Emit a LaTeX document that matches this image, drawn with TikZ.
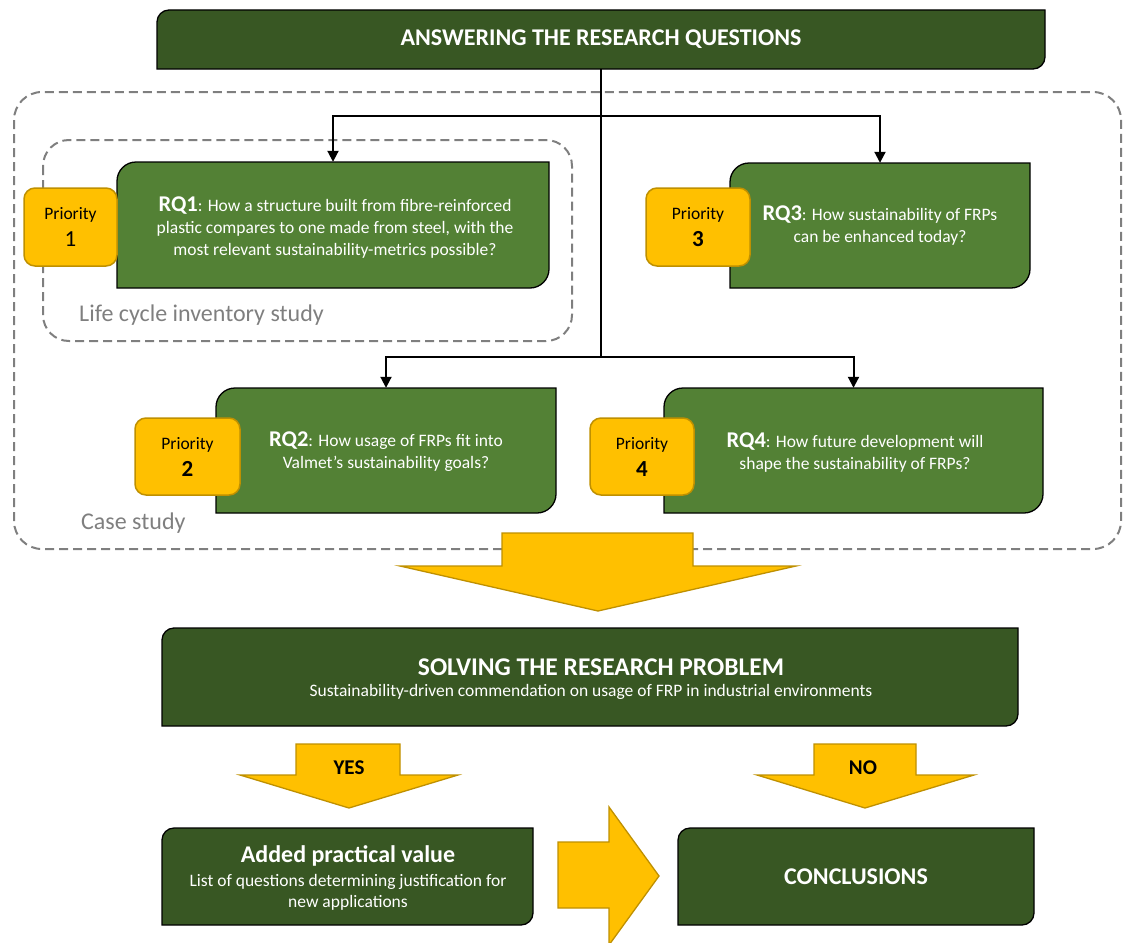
\documentclass[tikz,border=0pt]{standalone}
\usepackage{fontspec}
\setmainfont{Carlito}
\usetikzlibrary{arrows.meta}
\definecolor{darkgreen}{HTML}{385723}
\definecolor{midgreen}{HTML}{538135}
\definecolor{amber}{HTML}{FFC000}
\definecolor{amberedge}{HTML}{BF9000}
\definecolor{dashgray}{HTML}{7F7F7F}

% Box with rounded top-left and bottom-right corners: x1,y1,x2,y2,radius,fill
\newcommand\diagshape[6]{%
  \path[draw=black, line width=1.3pt, fill=#6]
    (#1,#4) -- (#1,#2+#5)
    .. controls (#1,#2+0.45*#5) and (#1+0.45*#5,#2) .. (#1+#5,#2)
    -- (#3,#2) -- (#3,#4-#5)
    .. controls (#3,#4-0.45*#5) and (#3-0.45*#5,#4) .. (#3-#5,#4)
    -- cycle;}

\tikzset{
  conn/.style={line width=2pt, black},
  arr/.style={conn, -{Triangle[length=11pt,width=11pt]}},
  prio/.style={draw=amberedge, line width=1.5pt, fill=amber, rounded corners=11pt,
    text=black, align=center, font=\fontsize{17.5}{27}\selectfont, inner sep=0pt},
  frame/.style={dashgray, line width=2pt, dash pattern=on 9pt off 5pt, rounded corners=28pt},
  framelabel/.style={dashgray, anchor=west, font=\fontsize{24}{26}\selectfont, inner sep=0pt},
  rqtext/.style={text=white, align=center, font=\fontsize{17.5}{22}\selectfont, inner sep=0pt},
  bigarrow/.style={fill=amber, draw=amberedge, line width=1.3pt},
  hdr/.style={text=white, font=\bfseries\fontsize{24}{26}\selectfont, inner sep=0pt},
  sub/.style={text=white, align=center, font=\fontsize{17.5}{21}\selectfont, inner sep=0pt},
  tag/.style={text=black, font=\bfseries\fontsize{21}{24}\selectfont, inner sep=0pt},
  area/.style={draw=none, inner sep=0pt}
}

\newcommand\rqlabel[1]{{\bfseries\fontsize{22.5}{22}\selectfont #1}:}
\newcommand\prionum[1]{{\fontsize{23}{26}\selectfont #1}}

\begin{document}
\begin{tikzpicture}[x=1pt,y=-1pt]
\useasboundingbox (0,0) rectangle (1123,942);

% dashed grouping frames
\draw[frame] (14,92) rectangle (1121,549);
\draw[frame, rounded corners=26pt] (43,140) rectangle (572,341);
\node[framelabel] (lci) at (79,315) {Life cycle inventory study};
\node[framelabel] (cs) at (81,523) {Case study};

% top header
\diagshape{157}{10}{1045}{69}{12}{darkgreen}
\node[area, minimum width=888pt, minimum height=59pt] (top) at (601,39.5) {};
\node[hdr] at (top) {ANSWERING THE RESEARCH QUESTIONS};

% research question boxes
\diagshape{117}{162}{549}{288}{19}{midgreen}
\node[area, minimum width=432pt, minimum height=126pt] (rq1) at (333,225) {};
\node[rqtext] at (335,228) {\rqlabel{RQ1} How a structure built from fibre-reinforced\\
  plastic compares to one made from steel, with the\\
  most relevant sustainability-metrics possible?};

\diagshape{730}{163}{1030}{288}{19}{midgreen}
\node[area, minimum width=300pt, minimum height=125pt] (rq3) at (880,225.5) {};
\node[rqtext] at (880,226) {\rqlabel{RQ3} How sustainability of FRPs\\can be enhanced today?};

\diagshape{216}{388}{556}{513}{19}{midgreen}
\node[area, minimum width=340pt, minimum height=125pt] (rq2) at (386,450.5) {};
\node[rqtext] at (386,452) {\rqlabel{RQ2} How usage of FRPs fit into\\Valmet’s sustainability goals?};

\diagshape{664}{388}{1043}{513}{19}{midgreen}
\node[area, minimum width=379pt, minimum height=125pt] (rq4) at (853.5,450.5) {};
\node[rqtext] at (855,453) {\rqlabel{RQ4} How future development will\\shape the sustainability of FRPs?};

% priority tags
\node[prio, minimum width=93pt, minimum height=78pt] (p1) at (70.5,227) {Priority\\\prionum{1}};
\node[prio, minimum width=104pt, minimum height=78pt] (p3) at (698,227) {Priority\\\prionum{\bfseries 3}};
\node[prio, minimum width=105pt, minimum height=77pt] (p2) at (187.5,456.5) {Priority\\\prionum{\bfseries 2}};
\node[prio, minimum width=104pt, minimum height=77pt] (p4) at (642,456.5) {Priority\\\prionum{\bfseries 4}};

% connectors from header to questions
\coordinate (j1) at (601,116);
\coordinate (j2) at (601,357);
\draw[conn] (top.south) -- (j2);
\draw[arr] (j1) -| (rq1.north);
\draw[arr] (j1) -| (rq3.north);
\draw[arr] (j2) -| (rq2.north);
\draw[arr] (j2) -| (rq4.north);

% large downward arrow
\path[bigarrow] (502,533) -- (693,533) -- (693,566) -- (796,566) -- (598,611)
  -- (400,566) -- (502,566) -- cycle;

% research problem box
\diagshape{162}{628}{1018}{726}{12}{darkgreen}
\node[area, minimum width=856pt, minimum height=98pt] (prob) at (590,677) {};
\node[hdr, font=\bfseries\fontsize{25.5}{26}\selectfont] at (601,667) {SOLVING THE RESEARCH PROBLEM};
\node[sub] at (591,692) {Sustainability-driven commendation on usage of FRP in industrial environments};

% yes / no arrows
\path[bigarrow] (296,744) -- (400,744) -- (400,775) -- (458,775) -- (349,808)
  -- (240,775) -- (296,775) -- cycle;
\node[tag] (yes) at (349,768) {YES};
\path[bigarrow] (814,744) -- (916,744) -- (916,775) -- (974,775) -- (865,808)
  -- (757,775) -- (814,775) -- cycle;
\node[tag] (no) at (863,768) {NO};

% outcome boxes
\diagshape{162}{828}{533}{925}{12}{darkgreen}
\node[area, minimum width=371pt, minimum height=97pt] (added) at (347.5,876.5) {};
\node[text=white, font=\bfseries\fontsize{24}{26}\selectfont, inner sep=0pt] at (348,856) {Added practical value};
\node[sub] at (348,892) {List of questions determining justification for\\new applications};

\diagshape{678}{828}{1034}{925}{12}{darkgreen}
\node[area, minimum width=356pt, minimum height=97pt] (concl) at (856,876.5) {};
\node[hdr] at (856,877) {CONCLUSIONS};

% right arrow between outcomes
\path[bigarrow] (558,842) -- (609,842) -- (609,807) -- (659,876) -- (609,945)
  -- (609,908) -- (558,908) -- cycle;
\end{tikzpicture}
\end{document}
